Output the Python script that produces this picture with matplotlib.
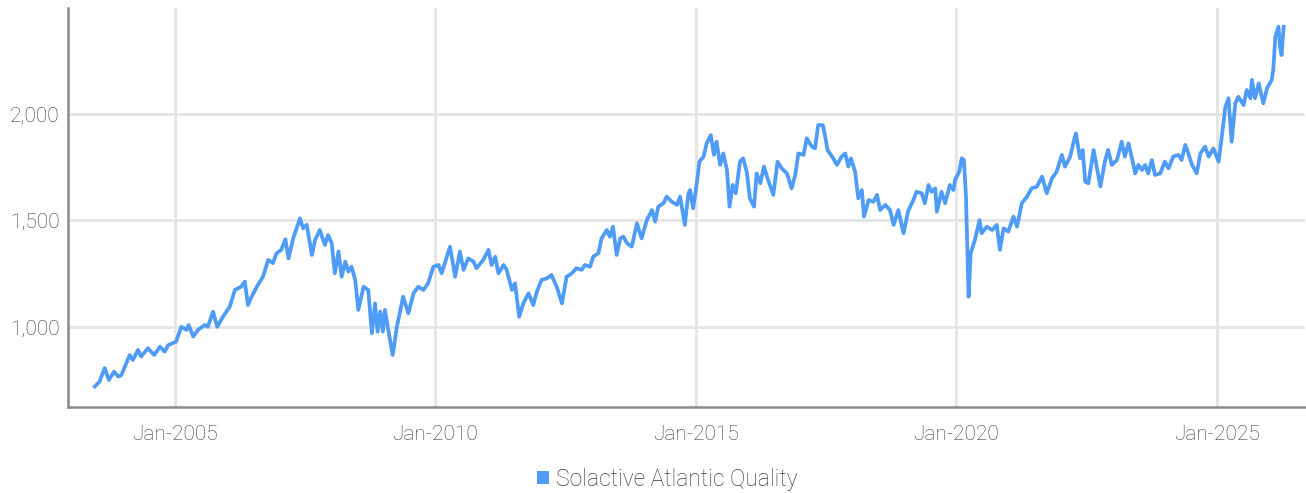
import matplotlib
matplotlib.use("Agg")
import matplotlib.pyplot as plt
import matplotlib.dates as mdates
from matplotlib.patches import Patch
from datetime import datetime

series_name = "Solactive Atlantic Quality"

# decimal-year dates and index levels
dates_dec = [
    2003.46, 2003.55, 2003.65, 2003.73, 2003.83, 2003.91, 2003.97, 2004.13, 2004.19, 2004.29,
    2004.35, 2004.48, 2004.60, 2004.71, 2004.80, 2004.87, 2005.02, 2005.12, 2005.22, 2005.26,
    2005.35, 2005.44, 2005.57, 2005.63, 2005.73, 2005.81, 2005.92, 2006.05, 2006.15, 2006.27,
    2006.34, 2006.40, 2006.47, 2006.59, 2006.69, 2006.79, 2006.88, 2006.95, 2007.04, 2007.12,
    2007.18, 2007.27, 2007.40, 2007.46, 2007.53, 2007.63, 2007.69, 2007.78, 2007.88, 2007.94,
    2008.01, 2008.07, 2008.14, 2008.20, 2008.27, 2008.33, 2008.39, 2008.46, 2008.52, 2008.62,
    2008.71, 2008.78, 2008.84, 2008.89, 2008.94, 2008.99, 2009.03, 2009.10, 2009.18, 2009.26,
    2009.38, 2009.48, 2009.58, 2009.67, 2009.77, 2009.86, 2009.96, 2010.06, 2010.12, 2010.19,
    2010.28, 2010.38, 2010.47, 2010.54, 2010.63, 2010.73, 2010.79, 2010.92, 2011.02, 2011.08,
    2011.15, 2011.21, 2011.31, 2011.37, 2011.47, 2011.53, 2011.61, 2011.69, 2011.79, 2011.88,
    2011.95, 2012.04, 2012.14, 2012.23, 2012.33, 2012.43, 2012.52, 2012.62, 2012.71, 2012.81,
    2012.87, 2012.97, 2013.03, 2013.13, 2013.19, 2013.29, 2013.35, 2013.41, 2013.48, 2013.55,
    2013.61, 2013.68, 2013.77, 2013.87, 2013.96, 2014.06, 2014.16, 2014.22, 2014.28, 2014.38,
    2014.44, 2014.54, 2014.64, 2014.70, 2014.79, 2014.86, 2014.89, 2014.95, 2015.02, 2015.07,
    2015.15, 2015.21, 2015.29, 2015.35, 2015.40, 2015.47, 2015.53, 2015.60, 2015.65, 2015.71,
    2015.77, 2015.85, 2015.91, 2015.98, 2016.04, 2016.12, 2016.17, 2016.24, 2016.31, 2016.39,
    2016.49, 2016.57, 2016.65, 2016.75, 2016.84, 2016.91, 2016.97, 2017.07, 2017.13, 2017.23,
    2017.29, 2017.35, 2017.44, 2017.48, 2017.53, 2017.64, 2017.71, 2017.80, 2017.87, 2017.93,
    2017.98, 2018.06, 2018.12, 2018.19, 2018.23, 2018.32, 2018.41, 2018.48, 2018.54, 2018.64,
    2018.73, 2018.80, 2018.89, 2018.99, 2019.08, 2019.18, 2019.24, 2019.34, 2019.40, 2019.47,
    2019.53, 2019.60, 2019.63, 2019.72, 2019.79, 2019.88, 2019.95, 2019.98, 2020.06, 2020.11,
    2020.15, 2020.19, 2020.24, 2020.28, 2020.36, 2020.45, 2020.49, 2020.59, 2020.69, 2020.78,
    2020.84, 2020.91, 2021.00, 2021.10, 2021.17, 2021.26, 2021.36, 2021.45, 2021.55, 2021.65,
    2021.74, 2021.84, 2021.93, 2022.03, 2022.09, 2022.19, 2022.25, 2022.30, 2022.38, 2022.43,
    2022.48, 2022.54, 2022.64, 2022.70, 2022.77, 2022.86, 2022.92, 2022.99, 2023.09, 2023.18,
    2023.24, 2023.31, 2023.37, 2023.44, 2023.50, 2023.57, 2023.63, 2023.69, 2023.76, 2023.82,
    2023.92, 2024.01, 2024.08, 2024.17, 2024.27, 2024.33, 2024.40, 2024.46, 2024.53, 2024.62,
    2024.69, 2024.78, 2024.85, 2024.94, 2025.04, 2025.10, 2025.17, 2025.23, 2025.29, 2025.36,
    2025.42, 2025.52, 2025.58, 2025.65, 2025.68, 2025.74, 2025.81, 2025.90, 2025.97, 2026.06,
    2026.09, 2026.13, 2026.19, 2026.22, 2026.25, 2026.29,
]

values = [
    720, 743, 807, 751, 790, 767, 773, 868, 845, 892,
    861, 900, 868, 907, 884, 915, 931, 1001, 986, 1009,
    955, 986, 1009, 1001, 1072, 1001, 1048, 1095, 1174, 1189,
    1213, 1103, 1142, 1197, 1236, 1315, 1300, 1346, 1362, 1412,
    1322, 1416, 1510, 1463, 1480, 1338, 1408, 1455, 1385, 1432,
    1393, 1252, 1354, 1236, 1307, 1260, 1283, 1221, 1080, 1189,
    1174, 970, 1111, 978, 1072, 978, 1080, 978, 868, 1001,
    1142, 1064, 1158, 1189, 1174, 1205, 1283, 1291, 1252, 1307,
    1377, 1236, 1354, 1268, 1322, 1307, 1276, 1315, 1362, 1291,
    1330, 1252, 1291, 1268, 1174, 1205, 1048, 1111, 1158, 1103,
    1166, 1221, 1228, 1244, 1189, 1111, 1236, 1252, 1276, 1268,
    1291, 1283, 1330, 1346, 1416, 1455, 1424, 1471, 1338, 1416,
    1424, 1393, 1377, 1487, 1416, 1502, 1549, 1495, 1565, 1581,
    1612, 1588, 1573, 1612, 1479, 1628, 1643, 1557, 1675, 1776,
    1800, 1862, 1901, 1808, 1870, 1761, 1815, 1737, 1565, 1667,
    1628, 1776, 1792, 1729, 1604, 1565, 1721, 1675, 1753, 1690,
    1620, 1776, 1745, 1721, 1651, 1714, 1815, 1808, 1886, 1847,
    1839, 1948, 1948, 1901, 1831, 1792, 1761, 1800, 1815, 1753,
    1792, 1729, 1604, 1643, 1518, 1596, 1588, 1620, 1549, 1573,
    1549, 1479, 1549, 1440, 1545, 1596, 1635, 1628, 1581, 1667,
    1635, 1651, 1541, 1635, 1581, 1667, 1643, 1690, 1729, 1792,
    1784, 1612, 1142, 1346, 1408, 1502, 1440, 1471, 1455, 1479,
    1362, 1463, 1448, 1518, 1471, 1581, 1612, 1651, 1659, 1706,
    1628, 1698, 1729, 1808, 1753, 1800, 1862, 1909, 1792, 1831,
    1682, 1675, 1831, 1753, 1660, 1780, 1831, 1761, 1784, 1870,
    1800, 1862, 1800, 1721, 1761, 1737, 1761, 1721, 1784, 1714,
    1721, 1776, 1745, 1800, 1808, 1784, 1855, 1815, 1761, 1721,
    1815, 1847, 1800, 1839, 1776, 1893, 2034, 2074, 1870, 2050,
    2081, 2042, 2113, 2074, 2160, 2074, 2144, 2050, 2121, 2160,
    2207, 2363, 2410, 2316, 2277, 2410,
]

y_ticks = [1000, 1500, 2000]
x_tick_years = [2005, 2010, 2015, 2020, 2025]


def dec_to_date(d):
    y = int(d)
    start = datetime(y, 1, 1)
    end = datetime(y + 1, 1, 1)
    return start + (end - start) * (d - y)


dates = [dec_to_date(d) for d in dates_dec]

plt.rcParams['font.family'] = ['Roboto', 'DejaVu Sans']
plt.rcParams['font.weight'] = 'light'

line_color = '#4f9cf8'
grid_color = '#e4e4e4'
text_color = '#3c3c3c'

fig = plt.figure(figsize=(13.06, 4.93), dpi=100)
ax = fig.add_axes([68 / 1306, 86 / 493, (1305 - 68) / 1306, (407 - 8) / 493])

ax.plot(dates, values, color=line_color, lw=2.7, solid_joinstyle='round', zorder=3)

ax.set_xlim(dec_to_date(2002.945), dec_to_date(2026.70))
ax.set_ylim(624, 2498)

ax.set_yticks(y_ticks)
ax.set_yticklabels([f"{v:,}" for v in y_ticks])
ax.set_xticks([datetime(y, 1, 1) for y in x_tick_years])
ax.xaxis.set_major_formatter(mdates.DateFormatter('%b-%Y'))

ax.grid(True, color=grid_color, lw=2, zorder=0)
ax.set_axisbelow(True)
ax.tick_params(axis='both', length=0, labelsize=15, labelcolor=text_color)
ax.tick_params(axis='x', pad=13)
ax.tick_params(axis='y', pad=6)

for s in ['top', 'right']:
    ax.spines[s].set_visible(False)
for s in ['left', 'bottom']:
    ax.spines[s].set_color('#8a8a8a')
    ax.spines[s].set_linewidth(1.8)

handle = Patch(facecolor=line_color, edgecolor='none')
fig.legend([handle], [series_name], loc='center', bbox_to_anchor=(0.511, 0.028),
           frameon=False, fontsize=16.5, handlelength=0.5, handleheight=0.55,
           handletextpad=0.3, labelcolor=text_color)

fig.savefig('out.png', dpi=100)
